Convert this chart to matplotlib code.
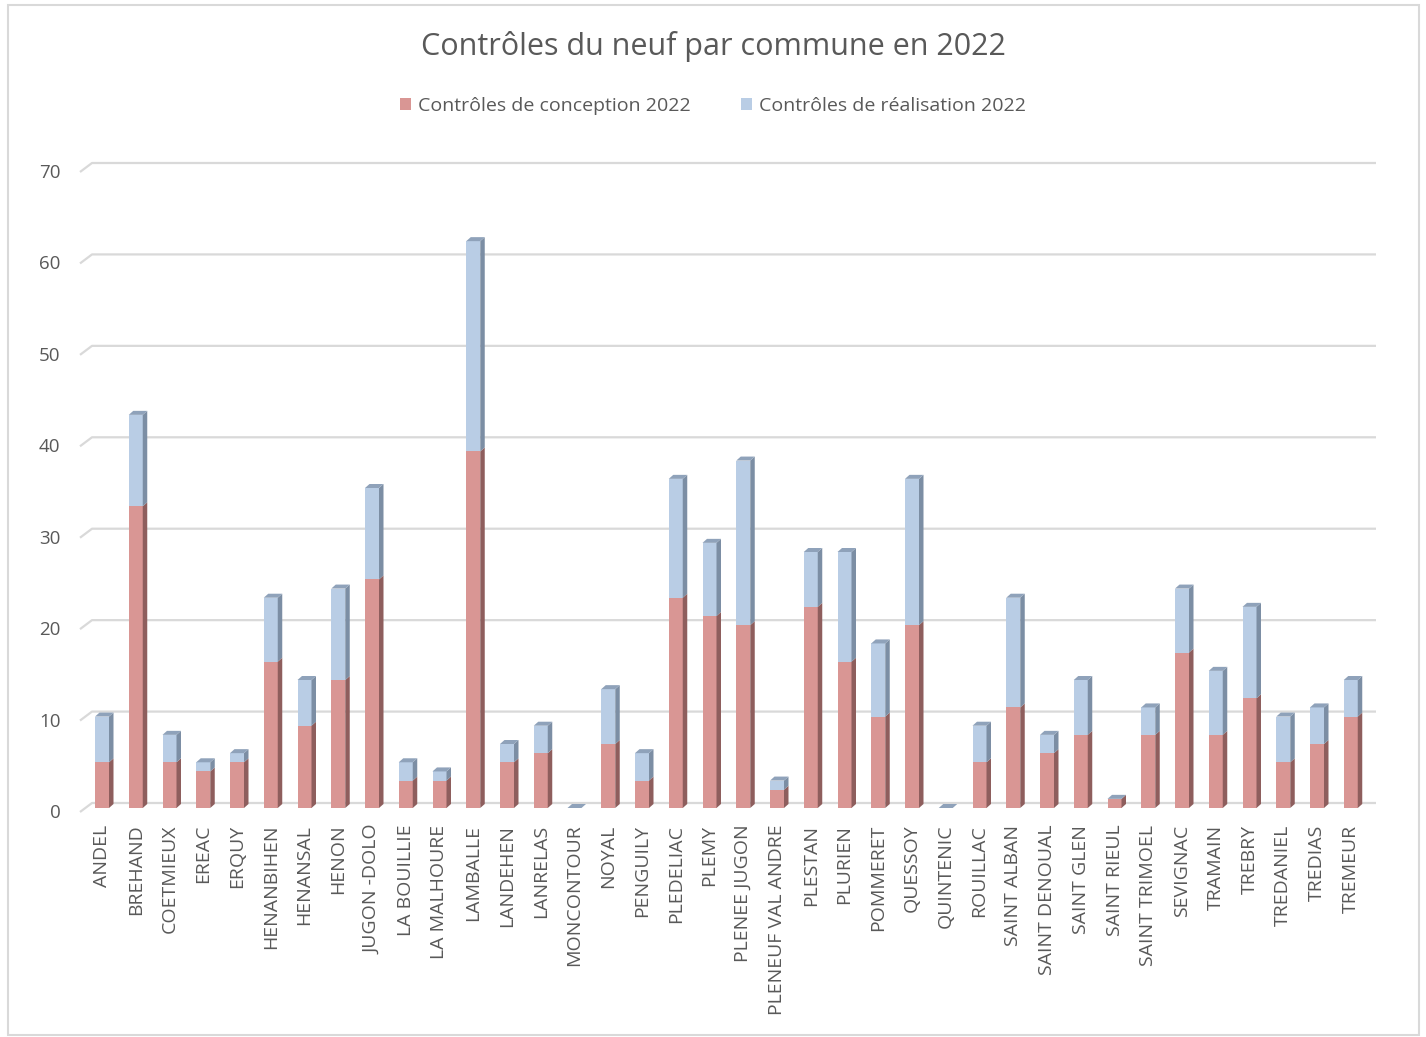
import matplotlib
matplotlib.use('Agg')
import matplotlib.pyplot as plt
from matplotlib.patches import Polygon, Rectangle, Patch
import matplotlib.transforms as mtransforms
import numpy as np

communes = ["ANDEL", "BREHAND", "COETMIEUX", "EREAC", "ERQUY", "HENANBIHEN", "HENANSAL",
            "HENON", "JUGON -DOLO", "LA BOUILLIE", "LA MALHOURE", "LAMBALLE", "LANDEHEN",
            "LANRELAS", "MONCONTOUR", "NOYAL", "PENGUILY", "PLEDELIAC", "PLEMY",
            "PLENEE JUGON", "PLENEUF VAL ANDRE", "PLESTAN", "PLURIEN", "POMMERET", "QUESSOY",
            "QUINTENIC", "ROUILLAC", "SAINT ALBAN", "SAINT DENOUAL", "SAINT GLEN",
            "SAINT RIEUL", "SAINT TRIMOEL", "SEVIGNAC", "TRAMAIN", "TREBRY", "TREDANIEL",
            "TREDIAS", "TREMEUR"]
conception = [5, 33, 5, 4, 5, 16, 9, 14, 25, 3, 3, 39, 5, 6, 0, 7, 3, 23, 21, 20, 2, 22,
              16, 10, 20, 0, 5, 11, 6, 8, 1, 8, 17, 8, 12, 5, 7, 10]
realisation = [5, 10, 3, 1, 1, 7, 5, 10, 10, 2, 1, 23, 2, 3, 0, 6, 3, 13, 8, 18, 1, 6,
               12, 8, 16, 0, 4, 12, 2, 6, 0, 3, 7, 7, 10, 5, 4, 4]
title = "Contrôles du neuf par commune en 2022"
series_labels = ["Contrôles de conception 2022", "Contrôles de réalisation 2022"]
yticks = [0, 10, 20, 30, 40, 50, 60, 70]

plt.rcParams['font.family'] = ['Open Sans', 'DejaVu Sans']
TXT = '#595959'
RED_F, RED_S = '#D99694', '#8E5E5D'
BLUE_F, BLUE_S, BLUE_T = '#B9CDE5', '#7C8EA4', '#8FA2BA'
GRID = '#D9D9D9'

W, H = 1426, 1037
fig = plt.figure(figsize=(W / 100, H / 100), dpi=100)
fig.patch.set_facecolor('white')

left_px, right_px = 80, 1376
y0_px, ytop_px = 808, 168
ax = fig.add_axes([left_px / W, 1 - y0_px / H, (right_px - left_px) / W, (y0_px - ytop_px) / H])
n = len(communes)
x = np.arange(n)
step_px = 33.75
xmin = -(102 - left_px) / step_px
xmax = xmin + (right_px - left_px) / step_px
ax.set_xlim(xmin, xmax)
ax.set_ylim(0, 70)
ppy = (y0_px - ytop_px) / 70.0
ppx = step_px

# back-wall gridlines
for v in yticks:
    xs = [xmin, xmin + 12 / ppx, xmax]
    ys = [v - 4 / ppy, v + 5 / ppy, v + 5 / ppy]
    ax.plot(xs, ys, color=GRID, lw=1.6, zorder=1, clip_on=False, solid_capstyle='butt')

w = 14 / ppx
ddx, ddy = 4.5 / ppx, 4 / ppy
conc = np.array(conception, float)
real = np.array(realisation, float)
ax.bar(x, conc, width=w, color=RED_F, zorder=3, linewidth=0)
ax.bar(x, real, bottom=conc, width=w, color=BLUE_F, zorder=3, linewidth=0)
for i in range(n):
    segs = [(0, conc[i], RED_S), (conc[i], conc[i] + real[i], BLUE_S)]
    for b, t, c in segs:
        if t > b:
            ax.add_patch(Polygon([(i + w / 2, b), (i + w / 2 + ddx, b + ddy),
                                  (i + w / 2 + ddx, t + ddy), (i + w / 2, t)],
                                 closed=True, facecolor=c, edgecolor='none', zorder=3))
    t = conc[i] + real[i]
    ax.add_patch(Polygon([(i - w / 2, t), (i + w / 2, t), (i + w / 2 + ddx, t + ddy),
                          (i - w / 2 + ddx, t + ddy)], closed=True,
                         facecolor=BLUE_T, edgecolor='none', zorder=3, clip_on=False))

for s in ax.spines.values():
    s.set_visible(False)
ax.set_yticks(yticks)
ax.set_yticklabels([str(v) for v in yticks], fontsize=13.5, color=TXT)
ax.set_xticks(x)
ax.set_xticklabels(communes, rotation=90, fontsize=14, color=TXT, va='top', ha='center')
ax.tick_params(axis='y', length=0, pad=14)
ax.tick_params(axis='x', length=0, pad=12)
off = mtransforms.ScaledTranslation(0, -3 / 100, fig.dpi_scale_trans)
for lab in ax.get_yticklabels():
    lab.set_transform(lab.get_transform() + off)
ax.patch.set_alpha(0)

fig.text(0.5, 1 - 47 / H, title, ha='center', va='center', fontsize=22, color=TXT)
handles = [Patch(facecolor=RED_F, edgecolor='none'), Patch(facecolor=BLUE_F, edgecolor='none')]
fig.legend(handles, series_labels, loc='center', bbox_to_anchor=(0.5, 1 - 106 / H), ncol=2,
           frameon=False, fontsize=14, labelcolor=TXT, handlelength=0.55, handleheight=0.55,
           handletextpad=0.35, columnspacing=2.6)

fig.patches.append(Rectangle((8 / W, 2 / H), (1419 - 8) / W, (1032 - 2) / H,
                             transform=fig.transFigure, fill=False, edgecolor=GRID, lw=1.5))

fig.savefig('out.png', dpi=100)
